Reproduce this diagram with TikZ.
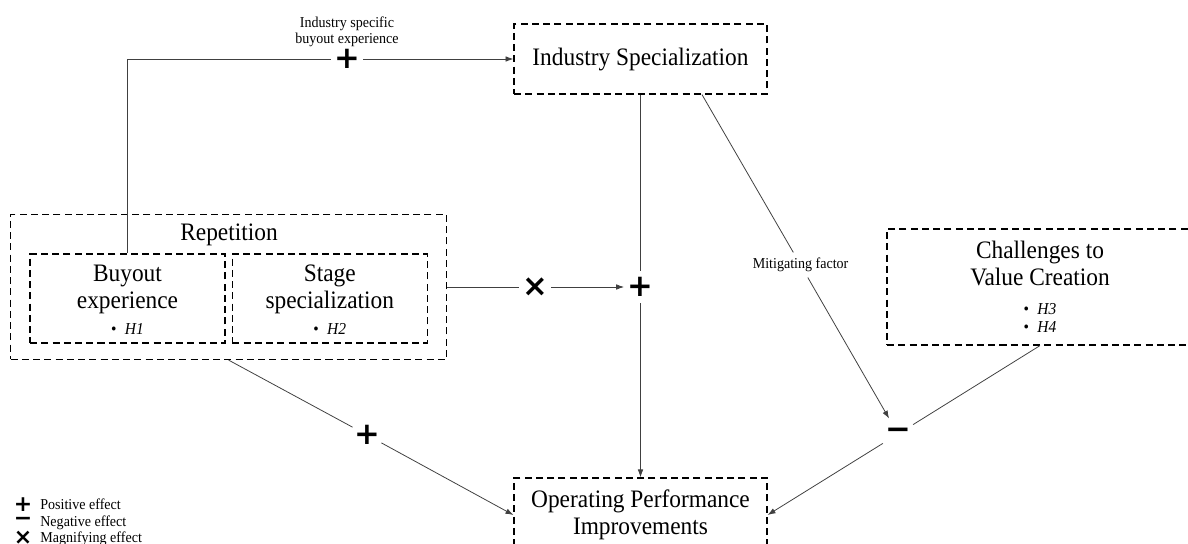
\documentclass[tikz,border=0pt]{standalone}
\usepackage{fontspec}
\setmainfont{Liberation Serif}[FakeStretch=0.93]
\newfontfamily\signfont{DejaVu Sans}
\usepackage{tikz}
\usetikzlibrary{arrows.meta}
\usetikzlibrary{positioning}

\newcommand{\hyppoint}[1]{\textbullet\enspace\textit{#1}}
\newcommand{\hyplist}[1]{{\fontsize{9.5}{10.2}\selectfont\begin{tabular}[t]{@{}l@{}}#1\end{tabular}}}

\tikzset{
  box/.style={draw, dash pattern=on 4pt off 2.4pt, line width=0.7pt, inner sep=0pt, align=center,
              font=\fontsize{14.3}{15.5}\selectfont},
  link/.style={draw=black!75, line width=0.45pt},
  arr/.style={link, -{Latex[length=4.5pt,width=3.2pt]}},
  sign/.style={circle, inner sep=0pt, minimum size=0.56cm,
               font=\signfont\bfseries\fontsize{17.5}{17.5}\selectfont},
  legsign/.style={inner sep=0pt, font=\signfont\bfseries\fontsize{12.5}{12.5}\selectfont},
  note/.style={inner sep=3pt, align=center, font=\fontsize{8.6}{9.2}\selectfont},
  legend/.style={inner sep=0pt, anchor=base west, font=\fontsize{8.6}{9.2}\selectfont}
}

\begin{document}
\begin{tikzpicture}[x=0.02cm, y=-0.02cm]
\useasboundingbox (0,0) rectangle (1188,544);

% boxes
\node[box, minimum width=5.06cm, minimum height=1.4cm] (ind) at (640.5,59) {Industry Specialization};
\node[box, minimum width=8.72cm, minimum height=2.9cm] (rep) at (228.6,287) {};
\node[font=\fontsize{14.3}{15.5}\selectfont] (reptxt) at (229,235) {Repetition};
\node[box, minimum width=3.9cm, minimum height=1.78cm] (buy) at (127.5,298.5) {\rule{0pt}{14pt}Buyout\\experience\\[-1pt]\hyplist{\hyppoint{H1}}};
\node[box, minimum width=3.9cm, minimum height=1.78cm] (stage) at (329.8,298.5) {\rule{0pt}{14pt}Stage\\specialization\\[-1pt]\hyplist{\hyppoint{H2}}};
\node[box, minimum width=6.12cm, minimum height=2.32cm] (chal) at (1040,287) {\rule{0pt}{13pt}Challenges to\\Value Creation\\[1pt]\hyplist{\hyppoint{H3}\\\hyppoint{H4}}};
\node[box, minimum width=5.06cm, minimum height=1.48cm] (op) at (640.5,515) {Operating Performance\\Improvements};

% effect signs
\node[sign] (pA) at (347,59) {+};
\node[sign, minimum size=0.42cm] (mX) at (535,287) {×};
\node[sign] (pB) at (640.5,287) {+};
\node[sign] (pC) at (367,435) {+};
\node[sign, minimum size=0.7cm] (mM) at (898,434) {−};

% labels
\node[note] (indlab) at (347,32) {Industry specific\\buyout experience};
\node[note] (mitig) at (800.6,265) {Mitigating factor};

% connectors
\draw[link] (buy.north) |- (pA);
\draw[arr] (pA) -- (ind);
\draw[link] (rep.east) -- (mX);
\draw[arr] (mX) -- (pB);
\draw[link] (ind) -- (pB);
\draw[arr] (pB) -- (op);
\draw[link] (rep.south) -- (pC);
\draw[arr] (pC) -- (op.west);
\draw[link] ([xshift=1.23cm]ind.south) -- (mitig);
\draw[arr] (mitig) -- (mM);
\draw[link] (chal.south) -- (mM);
\draw[arr] (mM) -- (op.east);

% legend
\node[legsign] (lgpos) at (23,505) {+};
\node[legsign] (lgneg) at (23,521.5) {−};
\node[legsign] (lgmag) at (23,538) {×};
\node[legend] (lgpostxt) at (40,509) {Positive effect};
\node[legend] (lgnegtxt) at (40,526) {Negative effect};
\node[legend] (lgmagtxt) at (40,542) {Magnifying effect};
\end{tikzpicture}
\end{document}
